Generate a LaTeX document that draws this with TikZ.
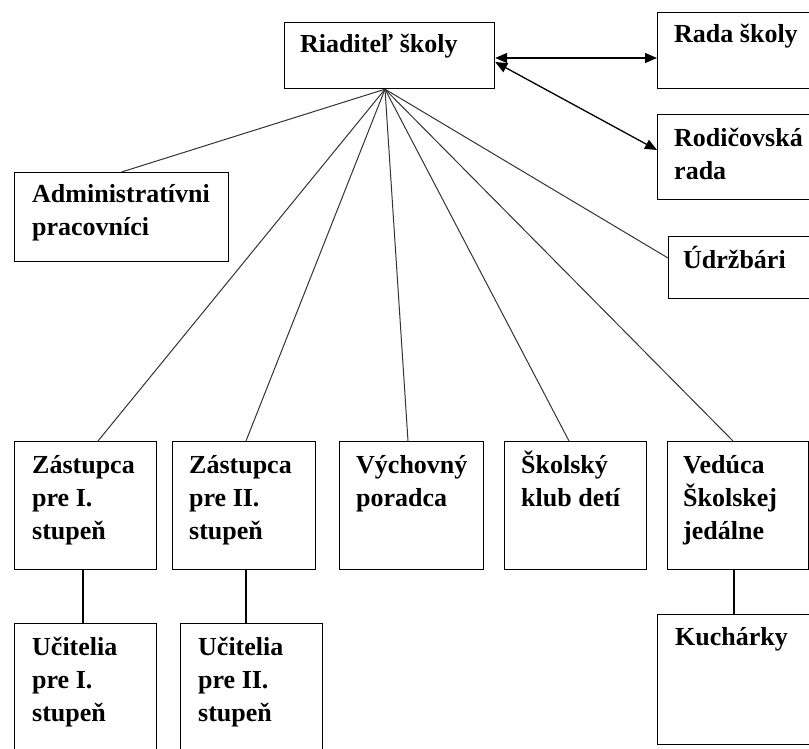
\documentclass[tikz,border=0pt]{standalone}
\usepackage{fontspec}
\setmainfont{Liberation Serif}
\usetikzlibrary{arrows.meta,calc}
\newcommand{\mlines}[1]{\begin{tabular}[t]{@{}l@{}}#1\end{tabular}}
\begin{document}
\begin{tikzpicture}[x=1pt,y=-1pt,
  box/.style={draw,line width=1.2pt,inner sep=0pt,anchor=north west},
  lbl/.style={inner sep=0pt,anchor=base west,font=\fontsize{26}{33}\selectfont\bfseries},
  conn/.style={line width=1pt,draw=black!80},
  vconn/.style={line width=1.4pt,draw=black},
  arr/.style={line width=1.3pt,{Triangle[length=12pt,width=10pt]}-{Triangle[length=12pt,width=10pt]}}]
\useasboundingbox (0,0) rectangle (809,749);
\clip (0,0) rectangle (809,749);
\node[box,minimum width=210pt,minimum height=66pt] (ria) at (284,22) {};
\node[box,minimum width=200pt,minimum height=76pt] (rada) at (657,12) {};
\node[box,minimum width=200pt,minimum height=85pt] (rod) at (657,114) {};
\node[box,minimum width=200pt,minimum height=62pt] (udr) at (668,236) {};
\node[box,minimum width=214pt,minimum height=89pt] (adm) at (14,172) {};
\node[box,minimum width=142pt,minimum height=128pt] (zas1) at (14,441) {};
\node[box,minimum width=143pt,minimum height=128pt] (zas2) at (172,441) {};
\node[box,minimum width=144pt,minimum height=128pt] (vych) at (339,441) {};
\node[box,minimum width=142pt,minimum height=128pt] (skd) at (504,441) {};
\node[box,minimum width=141pt,minimum height=128pt] (ved) at (667,441) {};
\node[box,minimum width=142pt,minimum height=200pt] (uc1) at (14,623) {};
\node[box,minimum width=142pt,minimum height=200pt] (uc2) at (180,623) {};
\node[box,minimum width=200pt,minimum height=130pt] (kuch) at (657,614) {};
% labels
\node[lbl] (t-ria) at ($(ria.north west)+(16,31)$) {Riaditeľ školy};
\node[lbl] (t-rada) at ($(rada.north west)+(17,31)$) {Rada školy};
\node[lbl] (t-rod) at ($(rod.north west)+(17,33)$) {\mlines{Rodičovská\\rada}};
\node[lbl] (t-udr) at ($(udr.north west)+(15,32)$) {Údržbári};
\node[lbl] (t-adm) at ($(adm.north west)+(18,31)$) {\mlines{Administratívni\\pracovníci}};
\node[lbl] (t-zas1) at ($(zas1.north west)+(18,32)$) {\mlines{Zástupca\\pre I.\\stupeň}};
\node[lbl] (t-zas2) at ($(zas2.north west)+(17,32)$) {\mlines{Zástupca\\pre II.\\stupeň}};
\node[lbl] (t-vych) at ($(vych.north west)+(17,32)$) {\mlines{Výchovný\\poradca}};
\node[lbl] (t-skd) at ($(skd.north west)+(17,32)$) {\mlines{Školský\\klub detí}};
\node[lbl] (t-ved) at ($(ved.north west)+(16,32)$) {\mlines{Vedúca\\Školskej\\jedálne}};
\node[lbl] (t-uc1) at ($(uc1.north west)+(18,32)$) {\mlines{Učitelia\\pre I.\\stupeň}};
\node[lbl] (t-uc2) at ($(uc2.north west)+(18,32)$) {\mlines{Učitelia\\pre II.\\stupeň}};
\node[lbl] (t-kuch) at ($(kuch.north west)+(18,31)$) {Kuchárky};
% connectors
\coordinate (hub) at ([xshift=101pt]ria.south west);
\draw[conn] (hub) -- (adm.north);
\draw[conn] (hub) -- ([xshift=84pt]zas1.north west);
\draw[conn] (hub) -- ([xshift=74pt]zas2.north west);
\draw[conn] (hub) -- ([xshift=69pt]vych.north west);
\draw[conn] (hub) -- ([xshift=65pt]skd.north west);
\draw[conn] (hub) -- ([xshift=66pt]ved.north west);
\draw[conn] (hub) -- ([yshift=-22pt]udr.north west);
\draw[arr] ([yshift=-36pt]ria.north east) -- ([yshift=-46pt]rada.north west);
\draw[arr] ([yshift=-40pt]ria.north east) -- ([yshift=-36pt]rod.north west);
\draw[vconn] ([xshift=69pt]zas1.south west) -- ([xshift=69pt]uc1.north west);
\draw[vconn] ([xshift=74pt]zas2.south west) -- ([xshift=66pt]uc2.north west);
\draw[vconn] ([xshift=67pt]ved.south west) -- ([xshift=77pt]kuch.north west);
\end{tikzpicture}
\end{document}
